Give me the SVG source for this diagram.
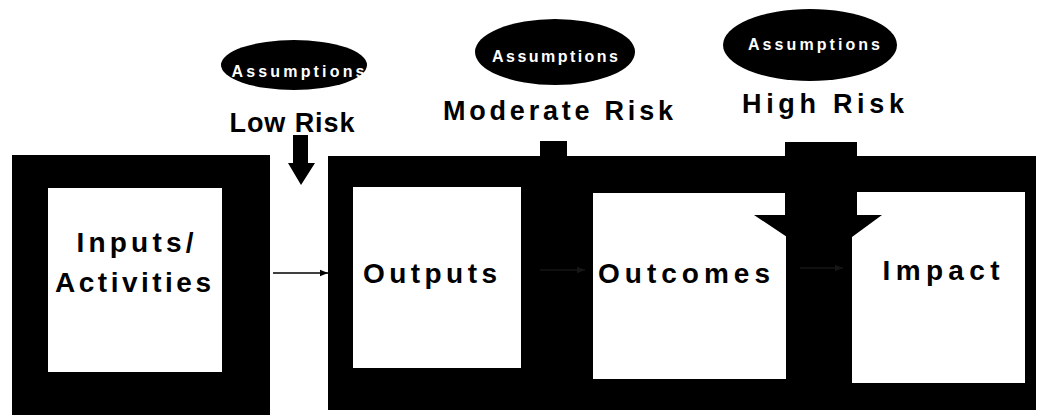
<svg xmlns="http://www.w3.org/2000/svg" width="1040" height="416" viewBox="0 0 1040 416">
  <style>
    .frame { fill: #000; }
    .panel { fill: #fff; }
    .box-label { font-family: "Liberation Sans", Arial, sans-serif; font-weight: bold; font-size: 28px; fill: #000; }
    .risk { font-family: "Liberation Sans", Arial, sans-serif; font-weight: bold; font-size: 27px; fill: #000; }
    .assume { font-family: "Liberation Sans", Arial, sans-serif; font-weight: bold; font-size: 16px; fill: #fff; }
    .flow { stroke: #000; stroke-width: 1.6; fill: none; }
    .flow-faint { stroke: #161616; stroke-width: 1.6; fill: none; }
  </style>
  <defs>
    <marker id="tip" viewBox="0 0 10 10" refX="10" refY="5" markerWidth="14" markerHeight="8" markerUnits="userSpaceOnUse" orient="auto">
      <path d="M0,1 L10,5 L0,9 z" fill="#000"/>
    </marker>
    <marker id="tip-faint" viewBox="0 0 10 10" refX="10" refY="5" markerWidth="14" markerHeight="8" markerUnits="userSpaceOnUse" orient="auto">
      <path d="M0,1 L10,5 L0,9 z" fill="#161616"/>
    </marker>
  </defs>

  <rect width="1040" height="416" fill="#fff"/>

  <!-- Inputs / Activities -->
  <g id="inputs">
    <rect class="frame" x="12" y="155" width="258" height="260"/>
    <rect class="panel" x="48" y="188" width="174" height="184"/>
    <text class="box-label" x="135" y="252" text-anchor="middle" textLength="117" lengthAdjust="spacing">Inputs/</text>
    <text class="box-label" x="133" y="292" text-anchor="middle" textLength="156" lengthAdjust="spacing">Activities</text>
  </g>

  <!-- Results chain frame holding outputs, outcomes and impact -->
  <g id="results-frame">
    <rect class="frame" x="328" y="156" width="708" height="254"/>
  </g>

  <g id="outputs">
    <rect class="panel" x="353" y="187" width="168" height="181"/>
    <text class="box-label" x="430" y="283" text-anchor="middle" textLength="134" lengthAdjust="spacing">Outputs</text>
  </g>

  <g id="outcomes">
    <rect class="panel" x="593" y="193" width="193" height="186"/>
    <text class="box-label" x="684" y="283" text-anchor="middle" textLength="172" lengthAdjust="spacing">Outcomes</text>
  </g>

  <g id="impact">
    <rect class="panel" x="851" y="192" width="174" height="191"/>
    <text class="box-label" x="941" y="280" text-anchor="middle" textLength="117" lengthAdjust="spacing">Impact</text>
  </g>

  <!-- Assumptions and their risk levels -->
  <g id="assumptions-low">
    <ellipse class="frame" cx="294" cy="65" rx="73" ry="25"/>
    <text class="assume" x="298" y="77" text-anchor="middle" textLength="133" lengthAdjust="spacing">Assumptions</text>
    <text class="risk" x="292" y="132" text-anchor="middle" font-size="26" textLength="125" lengthAdjust="spacing">Low Risk</text>
    <path class="frame" d="M293,135 H308 V163 H315 L301,185 L288,163 H293 Z"/>
  </g>

  <g id="assumptions-moderate">
    <ellipse class="frame" cx="555" cy="52" rx="80" ry="33"/>
    <text class="assume" x="555" y="62" text-anchor="middle" textLength="126" lengthAdjust="spacing">Assumptions</text>
    <text class="risk" x="558" y="120" text-anchor="middle" textLength="230" lengthAdjust="spacing">Moderate  Risk</text>
    <rect class="frame" x="540" y="141" width="27" height="20"/>
  </g>

  <g id="assumptions-high">
    <ellipse class="frame" cx="810" cy="45" rx="87" ry="36"/>
    <text class="assume" x="814" y="50" text-anchor="middle" textLength="132" lengthAdjust="spacing">Assumptions</text>
    <text class="risk" x="823" y="113" text-anchor="middle" font-size="29" textLength="162" lengthAdjust="spacing">High Risk</text>
    <path class="frame" d="M785,142 H857 V215 H882 L852,237 V383 H787 V237 L754,215 H785 Z"/>
  </g>

  <!-- Flow between stages -->
  <g id="connectors">
    <line class="flow" x1="273" y1="273" x2="328" y2="273" marker-end="url(#tip)"/>
    <line class="flow-faint" x1="540" y1="270" x2="585" y2="270" marker-end="url(#tip-faint)"/>
    <line class="flow-faint" x1="800" y1="268" x2="843" y2="268" marker-end="url(#tip-faint)"/>
  </g>
</svg>
